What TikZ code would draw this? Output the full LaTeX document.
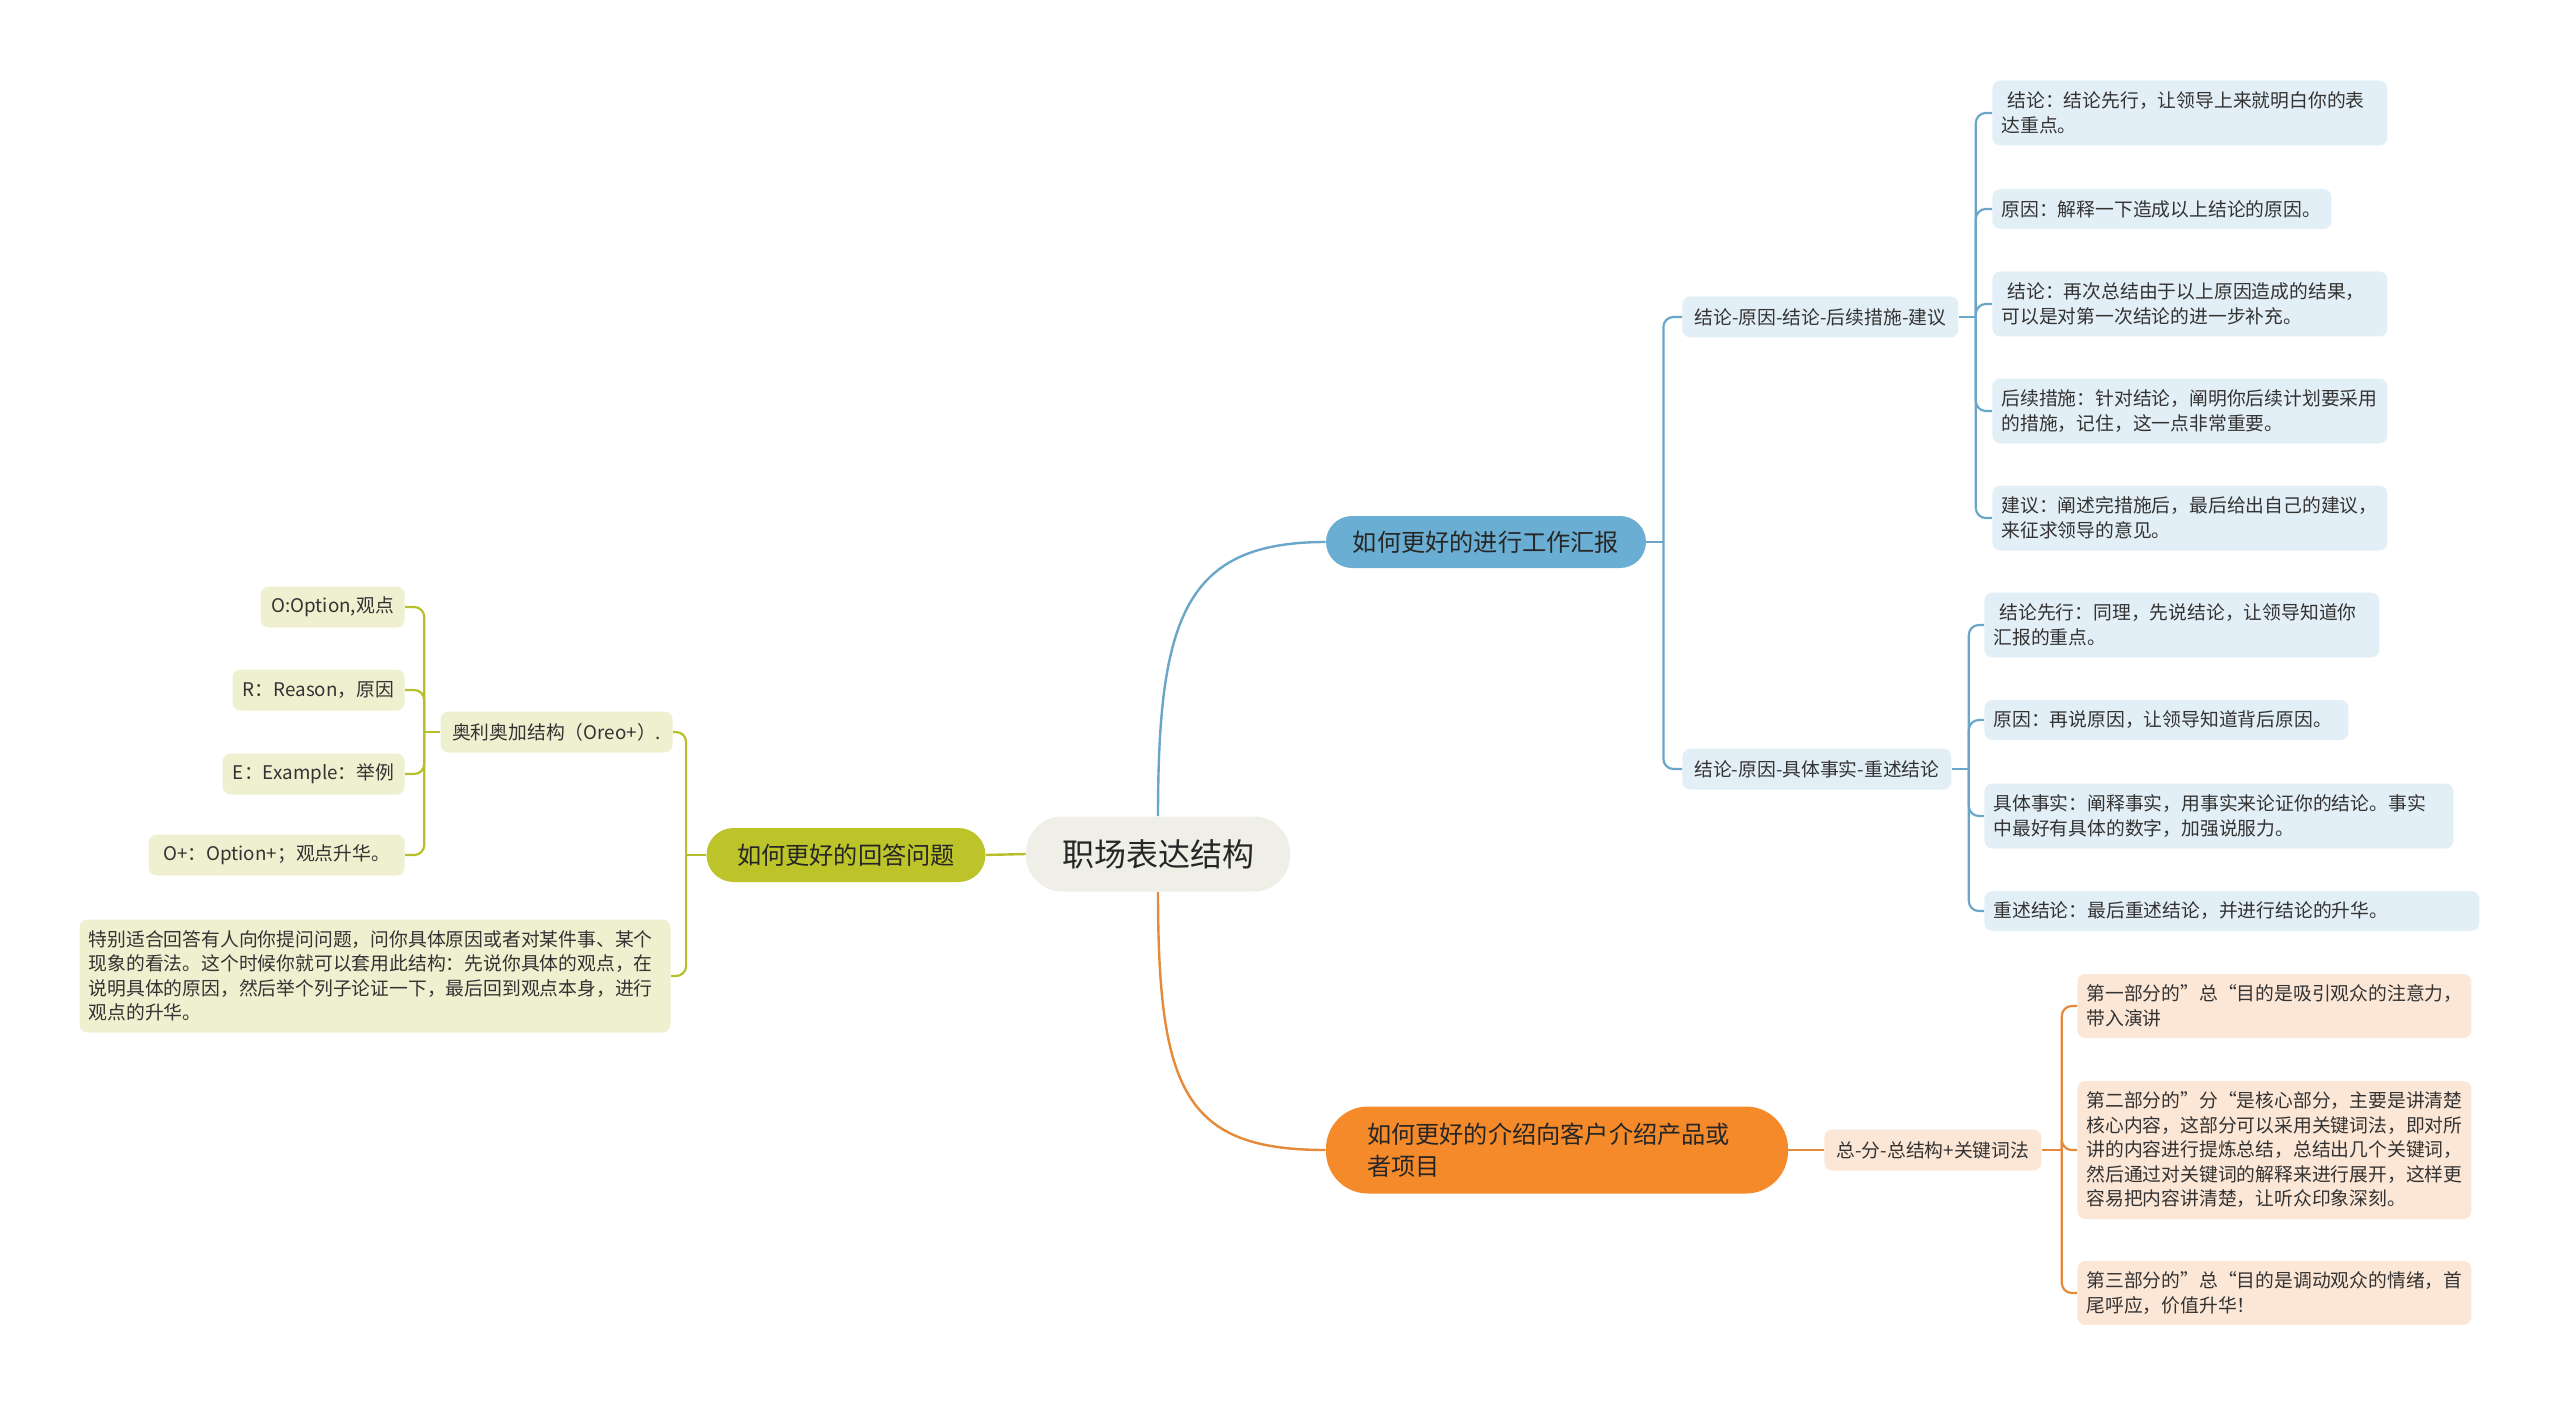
\documentclass[tikz,border=0pt]{standalone}
\usepackage{fontspec}
\setmainfont{Noto Sans CJK SC}
\definecolor{rootgray}{HTML}{EFEFE7}
\definecolor{bluemain}{HTML}{6AAFD3}
\definecolor{blueleaf}{HTML}{E3EFF6}
\definecolor{bluelink}{HTML}{6AA6C8}
\definecolor{greenmain}{HTML}{BCC42A}
\definecolor{greenleaf}{HTML}{EFF0D0}
\definecolor{greenlink}{HTML}{B6BF2A}
\definecolor{orangemain}{HTML}{F58A2B}
\definecolor{orangeleaf}{HTML}{FCE6D6}
\definecolor{orangelink}{HTML}{E5893A}
\definecolor{textdark}{HTML}{333333}
\newcommand{\leaffont}{\fontsize{9.4}{12.25}\selectfont}

\begin{document}
\begin{tikzpicture}[
    x=0.5pt, y=-0.5pt,
    rootnode/.style={fill=rootgray, rounded corners=18pt, minimum width=132pt, minimum height=37.5pt, text=black!85, font=\fontsize{16}{20}\selectfont},
    topic/.style={rounded corners=13pt, minimum height=26pt, text=black!85, font=\fontsize{12.1}{16.3}\selectfont},
    sub/.style={rounded corners=4pt, minimum height=20.5pt, inner xsep=4pt, text=textdark, font=\leaffont},
    leaf/.style={rounded corners=4pt, text width=#1, inner xsep=4.5pt, align=left, text=textdark, font=\leaffont},
    link/.style={line width=1.2pt},
    branch/.style={line width=1.1pt, rounded corners=5pt}
]
\useasboundingbox (0,0) rectangle (2560,1407);

% Root
\node[rootnode] (root) at (1158,854) {职场表达结构};

% Work report
\node[topic, fill=bluemain, minimum width=160pt] (report) at (1486,542) {如何更好的进行工作汇报};
\node[sub, fill=blueleaf, anchor=west, minimum width=138pt] (flowA) at (1682,317) {结论-原因-结论-后续措施-建议};
\node[sub, fill=blueleaf, anchor=west, minimum width=134.5pt] (flowB) at (1682,769) {结论-原因-具体事实-重述结论};

\node[leaf=188.5pt, fill=blueleaf, anchor=west, minimum height=32.5pt] (a1) at (1992,113) {\hspace*{3pt}结论：结论先行，让领导上来就明白你的表\\达重点。};
\node[leaf=160.5pt, fill=blueleaf, anchor=west, minimum height=20pt] (a2) at (1992,209) {原因：解释一下造成以上结论的原因。};
\node[leaf=188.5pt, fill=blueleaf, anchor=west, minimum height=32.5pt] (a3) at (1992,304) {\hspace*{3pt}结论：再次总结由于以上原因造成的结果，\\可以是对第一次结论的进一步补充。};
\node[leaf=188.5pt, fill=blueleaf, anchor=west, minimum height=32.5pt] (a4) at (1992,411) {后续措施：针对结论，阐明你后续计划要采用\\的措施，记住，这一点非常重要。};
\node[leaf=188.5pt, fill=blueleaf, anchor=west, minimum height=32.5pt] (a5) at (1992,518) {建议：阐述完措施后，最后给出自己的建议，\\来征求领导的意见。};

\node[leaf=188.5pt, fill=blueleaf, anchor=west, minimum height=32.5pt] (b1) at (1984,625) {\hspace*{3pt}结论先行：同理，先说结论，让领导知道你\\汇报的重点。};
\node[leaf=173pt, fill=blueleaf, anchor=west, minimum height=20pt] (b2) at (1984,720) {原因：再说原因，让领导知道背后原因。};
\node[leaf=225.5pt, fill=blueleaf, anchor=west, minimum height=32.5pt] (b3) at (1984,816) {具体事实：阐释事实，用事实来论证你的结论。事实\\中最好有具体的数字，加强说服力。};
\node[leaf=238.5pt, fill=blueleaf, anchor=west, minimum height=20pt] (b4) at (1984,911) {重述结论：最后重述结论，并进行结论的升华。};

% Answering questions
\node[topic, fill=greenmain, minimum width=139.5pt, minimum height=27pt, rounded corners=13.5pt] (answer) at (846,855) {如何更好的回答问题};
\node[sub, fill=greenleaf, anchor=east, minimum width=116pt] (oreo) at (673,732) {奥利奥加结构（Oreo+）.};

\node[sub, fill=greenleaf, anchor=east, minimum width=72pt] (o1) at (405,607) {O:Option,观点};
\node[sub, fill=greenleaf, anchor=east, minimum width=86pt] (o2) at (405,690) {R：Reason，原因};
\node[sub, fill=greenleaf, anchor=east, minimum width=91pt] (o3) at (405,774) {E：Example：举例};
\node[sub, fill=greenleaf, anchor=east, minimum width=128pt] (o4) at (405,855) {O+：Option+；观点升华。};

\node[leaf=286.5pt, fill=greenleaf, anchor=east, minimum height=56.5pt] (usage) at (671,976) {特别适合回答有人向你提问问题，问你具体原因或者对某件事、某个\\现象的看法。这个时候你就可以套用此结构：先说你具体的观点，在\\说明具体的原因，然后举个列子论证一下，最后回到观点本身，进行\\观点的升华。};

% Introducing products
\node[topic, fill=orangemain, rounded corners=21pt, text width=190pt, inner xsep=20.5pt, align=left, minimum height=43.5pt] (intro) at (1557,1150) {如何更好的介绍向客户介绍产品或\\者项目};
\node[sub, fill=orangeleaf, anchor=west, minimum width=108.5pt] (zfz) at (1824,1150) {总-分-总结构+关键词法};

\node[leaf=188pt, fill=orangeleaf, anchor=west, minimum height=32pt] (c1) at (2077,1006) {第一部分的”总“目的是吸引观众的注意力，\\带入演讲};
\node[leaf=188pt, fill=orangeleaf, anchor=west, minimum height=69pt] (c2) at (2077,1150) {第二部分的”分“是核心部分，主要是讲清楚\\核心内容，这部分可以采用关键词法，即对所\\讲的内容进行提炼总结，总结出几个关键词，\\然后通过对关键词的解释来进行展开，这样更\\容易把内容讲清楚，让听众印象深刻。};
\node[leaf=188pt, fill=orangeleaf, anchor=west, minimum height=32pt] (c3) at (2077,1293) {第三部分的”总“目的是调动观众的情绪，首\\尾呼应，价值升华！};

% Connectors
\draw[link, bluelink] (root.north) .. controls +(0,-200) and +(-140,0) .. (report.west);
\draw[link, orangelink] (root.south) .. controls +(0,200) and +(-140,0) .. (intro.west);
\draw[link, greenlink] (root.west) -- (answer.east);

\coordinate (rj) at ([xshift=8.5pt]report.east);
\draw[link, bluelink] (report.east) -- (rj);
\foreach \n in {flowA, flowB} \draw[branch, bluelink] (rj) |- (\n.west);

\coordinate (aj) at ([xshift=8.5pt]flowA.east);
\draw[branch, bluelink] (flowA.east) -- (aj);
\foreach \i in {1,...,5} \draw[branch, bluelink] (aj) |- (a\i.west);

\coordinate (bj) at ([xshift=8.5pt]flowB.east);
\draw[branch, bluelink] (flowB.east) -- (bj);
\foreach \i in {1,...,4} \draw[branch, bluelink] (bj) |- (b\i.west);

\coordinate (gj) at ([xshift=-10pt]answer.west);
\draw[link, greenlink] (answer.west) -- (gj);
\foreach \n in {oreo, usage} \draw[branch, greenlink] (gj) |- (\n.east);

\coordinate (oj) at ([xshift=-8pt]oreo.west);
\draw[branch, greenlink] (oreo.west) -- (oj);
\foreach \i in {1,...,4} \draw[branch, greenlink] (oj) |- (o\i.east);

\draw[link, orangelink] (intro.east) -- (zfz.west);
\coordinate (zj) at ([xshift=10pt]zfz.east);
\draw[branch, orangelink] (zfz.east) -- (zj);
\foreach \i in {1,...,3} \draw[branch, orangelink] (zj) |- (c\i.west);

\end{tikzpicture}
\end{document}
